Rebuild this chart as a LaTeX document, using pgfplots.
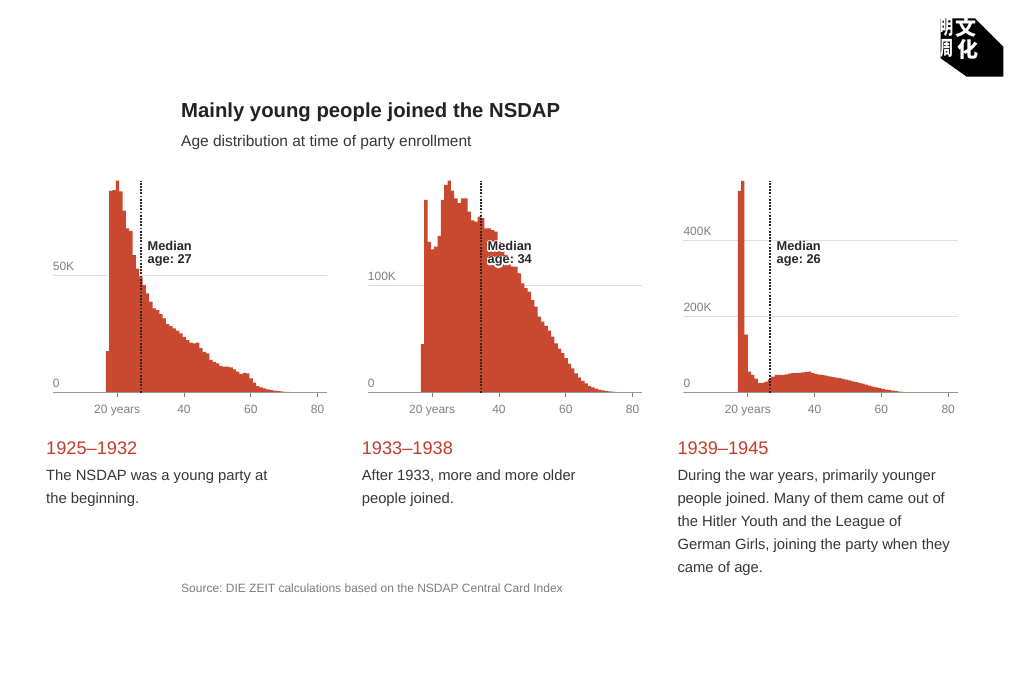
\documentclass[border=0pt]{standalone}
\usepackage{fontspec}
\setmainfont{Liberation Sans}
\newfontfamily\cjk{Noto Sans CJK SC}
\usepackage{pgfplots}
\pgfplotsset{compat=1.18}
\frenchspacing
\definecolor{barred}{RGB}{200,73,47}
\definecolor{headred}{RGB}{192,62,45}
\definecolor{tickgray}{RGB}{128,128,128}
\definecolor{gridgray}{RGB}{222,222,222}
\definecolor{axisgray}{RGB}{150,150,150}
\definecolor{textdark}{RGB}{55,55,55}
\definecolor{titledark}{RGB}{34,34,34}
\definecolor{medgray}{RGB}{40,40,40}
\definecolor{srcgray}{RGB}{125,125,125}
\newcommand{\fs}[1]{\fontsize{#1}{#1}\selectfont}

\pgfplotsset{
  panel/.style={
    scale only axis, width=274.6pt, height=212pt,
    xmin=0.7, xmax=82.9, ymin=0,
    axis line style={draw=none},
    xtick={20,40,60,80}, xticklabels={20 years,40,60,80},
    tick align=outside, major tick length=4.5pt,
    xtick pos=bottom, ytick pos=left,
    x tick style={draw=tickgray, line width=0.8pt},
    y tick style={draw=none},
    ymajorgrids, grid style={draw=gridgray, line width=0.8pt},
    tick label style={font=\fs{12}, text=tickgray},
    yticklabel style={anchor=south west, inner sep=0pt, xshift=4.5pt, yshift=4.5pt},
    xticklabel style={inner sep=0pt, yshift=-8pt},
  },
  bars/.style={const plot, fill=barred, draw=none},
  medline/.style={draw=medgray, line width=1.9pt, dash pattern=on 1.9pt off 1.3pt},
}

\newcommand{\medtxt}[3]{%
  \node[anchor=base west, inner sep=0pt, text=medgray, font=\bfseries\fs{12.8}] at (#1,#2) {Median};
  \node[anchor=base west, inner sep=0pt, text=medgray, font=\bfseries\fs{12.8}] at (#1,#2-13.5) {#3};
}
\newcommand{\halonode}[3]{%
  \node[anchor=base west, inner sep=0pt, text=white, font=\bfseries\fs{12.8}] at (#1,#2) {\special{pdf:literal direct 1 1 1 RG 2.8 w 1 j 2 Tr}#3\special{pdf:literal direct 0 Tr}};
  \node[anchor=base west, inner sep=0pt, text=medgray, font=\bfseries\fs{12.8}] at (#1,#2) {#3};
}

\begin{document}
\begin{tikzpicture}[x=1pt,y=1pt]
\useasboundingbox (0,0) rectangle (1024,683);
\fill[white] (0,0) rectangle (1024,683);

% logo
\fill[black] (940.7,664.7) -- (975,664.7) -- (1003.3,636.3) -- (1003.3,606.3) -- (966.7,606.3) -- (940.7,624.7) -- cycle;
\node[text=white, font=\cjk\bfseries\fs{20}, inner sep=0pt, xscale=0.65] at (947.2,655.5) {明};
\node[text=white, font=\cjk\bfseries\fs{21}, inner sep=0pt] at (966,655.5) {文};
\node[text=white, font=\cjk\bfseries\fs{20}, inner sep=0pt, xscale=0.65] at (947.2,634.5) {周};
\node[text=white, font=\cjk\bfseries\fs{21}, inner sep=0pt] at (968,634) {化};

% titles
\node[anchor=base west, inner sep=0pt, text=titledark, font=\bfseries\fs{20.3}] at (181,565) {Mainly young people joined the NSDAP};
\node[anchor=base west, inner sep=0pt, text=textdark, font=\fs{15.5}] at (181,536.5) {Age distribution at time of party enrollment};

% panel 1
\begin{axis}[panel, at={(52.7pt,290.3pt)}, anchor=south west, ymax=90.6,
  ytick={0,50}, yticklabels={0,50K}]
\addplot[bars] coordinates {(16.6,17.8)(17.6,86.3)(18.6,86.6)(19.6,90.6)(20.6,86.0)(21.6,77.8)(22.6,70.2)(23.6,69.0)(24.6,58.8)(25.6,53.0)(26.6,49.6)(27.6,46.0)(28.6,42.5)(29.6,38.9)(30.6,36.0)(31.6,35.3)(32.6,33.6)(33.6,31.8)(34.6,29.3)(35.6,28.5)(36.6,27.5)(37.6,26.5)(38.6,25.4)(39.6,23.9)(40.6,22.5)(41.6,21.4)(42.6,21.1)(43.6,21.4)(44.6,19.0)(45.6,17.5)(46.6,16.8)(47.6,14.0)(48.6,13.2)(49.6,12.5)(50.6,11.4)(51.6,11.1)(52.6,11.1)(53.6,10.8)(54.6,10.0)(55.6,9.0)(56.6,8.0)(57.6,8.5)(58.6,8.3)(59.6,6.1)(60.6,4.3)(61.6,2.8)(62.6,2.3)(63.6,1.9)(64.6,1.4)(65.6,1.1)(66.6,0.85)(67.6,0.7)(68.6,0.55)(69.6,0.4)(70.6,0.3)(71.6,0.22)(72.6,0.15)(73.6,0.1)(74.6,0.07)(75.6,0.05)(76.6,0)} \closedcycle;
\draw[axisgray, line width=1.3pt] (rel axis cs:0,0) -- (rel axis cs:1,0);
\addplot[medline] coordinates {(27.2,0)(27.2,90.6)};
\end{axis}

% panel 2
\begin{axis}[panel, at={(367.7pt,290.3pt)}, anchor=south west, ymax=196.8,
  ytick={0,100}, yticklabels={0,100K}]
\addplot[bars] coordinates {(16.6,45)(17.6,179)(18.6,140)(19.6,133)(20.6,135.6)(21.6,145.5)(22.6,179)(23.6,193)(24.6,196.8)(25.6,187.6)(26.6,180.5)(27.6,175.9)(28.6,180.5)(29.6,180.5)(30.6,168)(31.6,160)(32.6,158.8)(33.6,163.5)(34.6,162)(35.6,152.6)(36.6,152.6)(37.6,151)(38.6,149.5)(39.6,140)(40.6,135.6)(41.6,127.9)(42.6,123)(43.6,117)(44.6,117)(45.6,110.8)(46.6,101.5)(47.6,97)(48.6,93.8)(49.6,86)(50.6,80)(51.6,70.6)(52.6,66)(53.6,62)(54.6,57.6)(55.6,52)(56.6,45.8)(57.6,41)(58.6,37)(59.6,32)(60.6,27)(61.6,22.6)(62.6,18)(63.6,14.2)(64.6,11)(65.6,8.7)(66.6,6.2)(67.6,5)(68.6,3.7)(69.6,2.8)(70.6,2.2)(71.6,1.5)(72.6,1.2)(73.6,0.9)(74.6,0.6)(75.6,0.3)(76.6,0.15)(77.6,0)} \closedcycle;
\draw[axisgray, line width=1.3pt] (rel axis cs:0,0) -- (rel axis cs:1,0);
\addplot[medline] coordinates {(34.5,0)(34.5,196.8)};
\end{axis}

% panel 3
\begin{axis}[panel, at={(683.3pt,290.3pt)}, anchor=south west, ymax=555.7,
  ytick={0,200,400}, yticklabels={0,200K,400K}]
\addplot[bars] coordinates {(17,529)(18,555)(19,152)(20,55)(21,47)(22,37)(23,25)(24,25.5)(25,29)(26,35)(27,42)(28,46.5)(29,46.5)(30,46)(31,48)(32,50)(33,51)(34,51)(35,52)(36,53)(37,54)(38,55)(39,51)(40,49)(41,47.5)(42,46)(43,44.5)(44,43)(45,41)(46,39.5)(47,38)(48,36.5)(49,34)(50,32)(51,30)(52,28)(53,25.5)(54,23.5)(55,21)(56,18.5)(57,16)(58,14)(59,12)(60,10)(61,8.2)(62,6.6)(63,5.2)(64,4)(65,3)(66,2.2)(67,1.6)(68,1.1)(69,0.8)(70,0.5)(71,0.3)(72,0.15)(73,0)} \closedcycle;
\draw[axisgray, line width=1.3pt] (rel axis cs:0,0) -- (rel axis cs:1,0);
\addplot[medline] coordinates {(26.6,0)(26.6,555.7)};
\end{axis}

% median labels
\medtxt{147.5}{432.5}{age: 27}
\halonode{487.5}{432.5}{Median}
\halonode{487.5}{419}{age: 34}
\medtxt{776.5}{432.5}{age: 26}

% panel texts
\begin{scope}[every node/.style={anchor=base west, inner sep=0pt}]
\node[text=headred, font=\fs{18.2}] at (46,229) {1925–1932};
\node[text=textdark, font=\fs{14.8}] at (46,203) {The NSDAP was a young party at};
\node[text=textdark, font=\fs{14.8}] at (46,180) {the beginning.};

\node[text=headred, font=\fs{18.2}] at (361.6,229) {1933–1938};
\node[text=textdark, font=\fs{14.8}] at (361.6,203) {After 1933, more and more older};
\node[text=textdark, font=\fs{14.8}] at (361.6,180) {people joined.};

\node[text=headred, font=\fs{18.2}] at (677.3,229) {1939–1945};
\node[text=textdark, font=\fs{14.8}] at (677.3,203) {During the war years, primarily younger};
\node[text=textdark, font=\fs{14.8}] at (677.3,180) {people joined. Many of them came out of};
\node[text=textdark, font=\fs{14.8}] at (677.3,157) {the Hitler Youth and the League of};
\node[text=textdark, font=\fs{14.8}] at (677.3,134) {German Girls, joining the party when they};
\node[text=textdark, font=\fs{14.8}] at (677.3,111) {came of age.};

\node[text=srcgray, font=\fs{12}] at (181,91) {Source: DIE ZEIT calculations based on the NSDAP Central Card Index};
\end{scope}
\end{tikzpicture}
\end{document}
